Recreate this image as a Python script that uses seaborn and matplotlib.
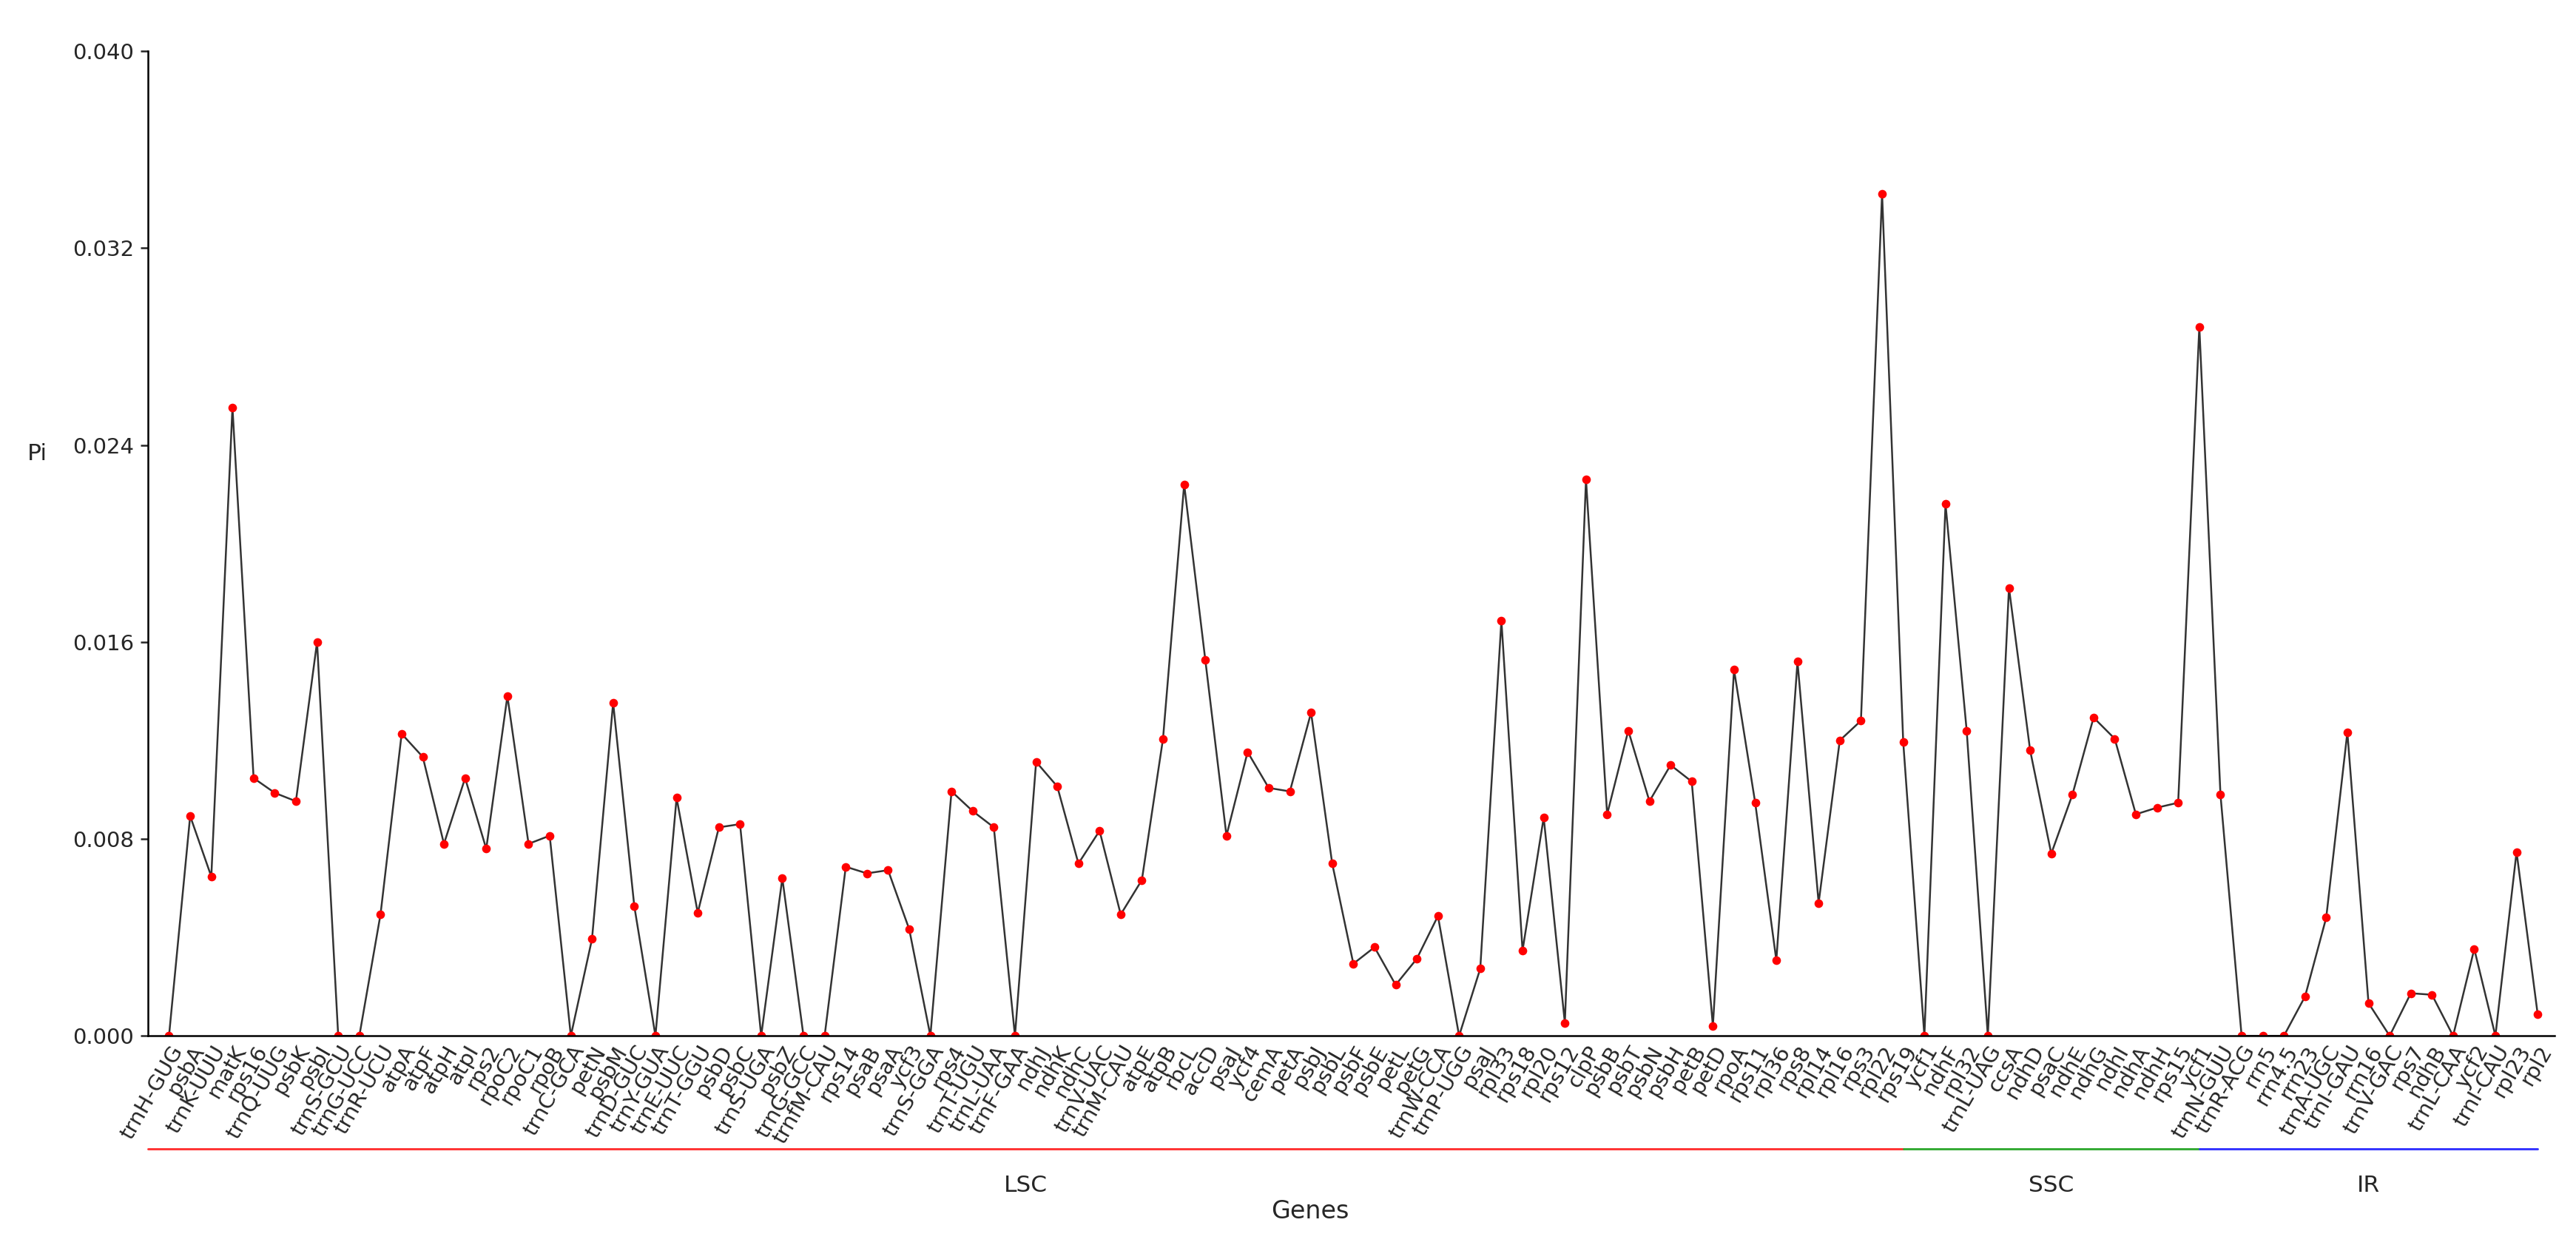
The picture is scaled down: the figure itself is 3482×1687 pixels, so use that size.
import matplotlib
matplotlib.use("Agg")
import matplotlib.pyplot as plt
import matplotlib.transforms as mtransforms
import numpy as np
import pandas
import seaborn as sns

# Gene order along the chloroplast genome
genes = [
    "trnH-GUG", "psbA", "trnK-UUU", "matK", "rps16", "trnQ-UUG", "psbK", "psbI",
    "trnS-GCU", "trnG-UCC", "trnR-UCU", "atpA", "atpF", "atpH", "atpI", "rps2",
    "rpoC2", "rpoC1", "rpoB", "trnC-GCA", "petN", "psbM", "trnD-GUC", "trnY-GUA",
    "trnE-UUC", "trnT-GGU", "psbD", "psbC", "trnS-UGA", "psbZ", "trnG-GCC",
    "trnfM-CAU", "rps14", "psaB", "psaA", "ycf3", "trnS-GGA", "rps4", "trnT-UGU",
    "trnL-UAA", "trnF-GAA", "ndhJ", "ndhK", "ndhC", "trnV-UAC", "trnM-CAU", "atpE",
    "atpB", "rbcL", "accD", "psaI", "ycf4", "cemA", "petA", "psbJ", "psbL", "psbF",
    "psbE", "petL", "petG", "trnW-CCA", "trnP-UGG", "psaJ", "rpl33", "rps18",
    "rpl20", "rps12", "clpP", "psbB", "psbT", "psbN", "psbH", "petB", "petD",
    "rpoA", "rps11", "rpl36", "rps8", "rpl14", "rpl16", "rps3", "rpl22", "rps19",
    "ycf1", "ndhF", "rpl32", "trnL-UAG", "ccsA", "ndhD", "psaC", "ndhE", "ndhG",
    "ndhI", "ndhA", "ndhH", "rps15", "ycf1", "trnN-GUU", "trnR-ACG", "rrn5",
    "rrn4.5", "rrn23", "trnA-UGC", "trnI-GAU", "rrn16", "trnV-GAC", "rps7", "ndhB",
    "trnL-CAA", "ycf2", "trnI-CAU", "rpl23", "rpl2",
]

# Nucleotide diversity (Pi)
pi = [
    0.0, 0.00893, 0.00647, 0.02553, 0.01047, 0.00987, 0.00953, 0.0160,
    0.0, 0.0, 0.00493, 0.01227, 0.01133, 0.0078, 0.01047, 0.0076,
    0.0138, 0.0078, 0.00813, 0.0, 0.00393, 0.01353, 0.00527, 0.0,
    0.00967, 0.0050, 0.00847, 0.0086, 0.0, 0.0064, 0.0,
    0.0, 0.00687, 0.0066, 0.00673, 0.00433, 0.0, 0.00993, 0.00913,
    0.00847, 0.0, 0.01113, 0.01013, 0.0070, 0.00833, 0.00493, 0.00633,
    0.01207, 0.0224, 0.01527, 0.00813, 0.01153, 0.01007, 0.00993, 0.01313, 0.0070, 0.00293,
    0.0036, 0.00207, 0.00313, 0.00487, 0.0, 0.00273, 0.01687, 0.00347,
    0.00887, 0.00053, 0.0226, 0.0090, 0.0124, 0.00953, 0.0110, 0.01033, 0.0004,
    0.01487, 0.00947, 0.00307, 0.0152, 0.0054, 0.0120, 0.0128, 0.0342, 0.01193,
    0.0, 0.0216, 0.0124, 0.0, 0.0182, 0.0116, 0.0074, 0.0098, 0.01293,
    0.01207, 0.0090, 0.00927, 0.00947, 0.0288, 0.0098, 0.0, 0.0,
    0.0, 0.0016, 0.0048, 0.01233, 0.00133, 0.0, 0.00173, 0.00167,
    0.0, 0.00353, 0.0, 0.00747, 0.00087,
]

# Genome regions: name, start index, end index, colour
regions = ["LSC", "SSC", "IR"]
region_bounds = [(-1, 82), (82, 96), (96, 112)]
region_colors = ["#ff3333", "#33aa33", "#3333ff"]

yticks = [0.0, 0.008, 0.016, 0.024, 0.032, 0.040]


def main():
    sns.set_style("white")
    plt.rcParams["font.family"] = ["DejaVu Sans"]

    df = pandas.DataFrame({"pos": np.arange(len(genes)), "Pi": pi})

    fig = plt.figure(figsize=(3482 / 300, 1687 / 300), dpi=300)
    ax = fig.add_axes([0.0574, 0.170, 0.9343, 0.789])

    sns.lineplot(
        data=df,
        x="pos",
        y="Pi",
        ax=ax,
        color="#333333",
        linewidth=0.6,
        marker="o",
        markersize=2.8,
        markerfacecolor="red",
        markeredgecolor="red",
        markeredgewidth=0,
        sort=False,
    )

    ax.set_xlim(-1.0, 112.8)
    ax.set_ylim(0, 0.040)
    ax.set_yticks(yticks)
    ax.set_yticklabels([f"{t:.3f}" for t in yticks], fontsize=7)
    ax.set_xticks(df["pos"])
    ax.set_xticklabels(genes, rotation=60, ha="right", rotation_mode="anchor", fontsize=7)
    ax.tick_params(axis="x", length=0, pad=2)
    ax.tick_params(axis="y", length=2.5, width=0.6, left=True, pad=2)

    for side in ["top", "right"]:
        ax.spines[side].set_visible(False)
    for side in ["left", "bottom"]:
        ax.spines[side].set_color("black")
        ax.spines[side].set_linewidth(0.6)

    ax.set_ylabel("Pi", rotation=0, fontsize=7.5)
    ax.yaxis.set_label_coords(-0.046, 0.58)
    ax.set_xlabel("")

    # Region bars below the gene labels
    trans = mtransforms.blended_transform_factory(ax.transData, ax.transAxes)
    for name, (start, end), color in zip(regions, region_bounds, region_colors):
        ax.plot([start, end], [-0.115, -0.115], color=color, linewidth=0.7,
                transform=trans, clip_on=False)
        ax.text((start + end) / 2, -0.152, name, transform=trans, ha="center",
                va="center", fontsize=7.5)

    ax.text(0.483, -0.178, "Genes", transform=ax.transAxes, ha="center",
            va="center", fontsize=8)

    fig.savefig("out.png", dpi=300)
    plt.close(fig)


if __name__ == "__main__":
    main()
